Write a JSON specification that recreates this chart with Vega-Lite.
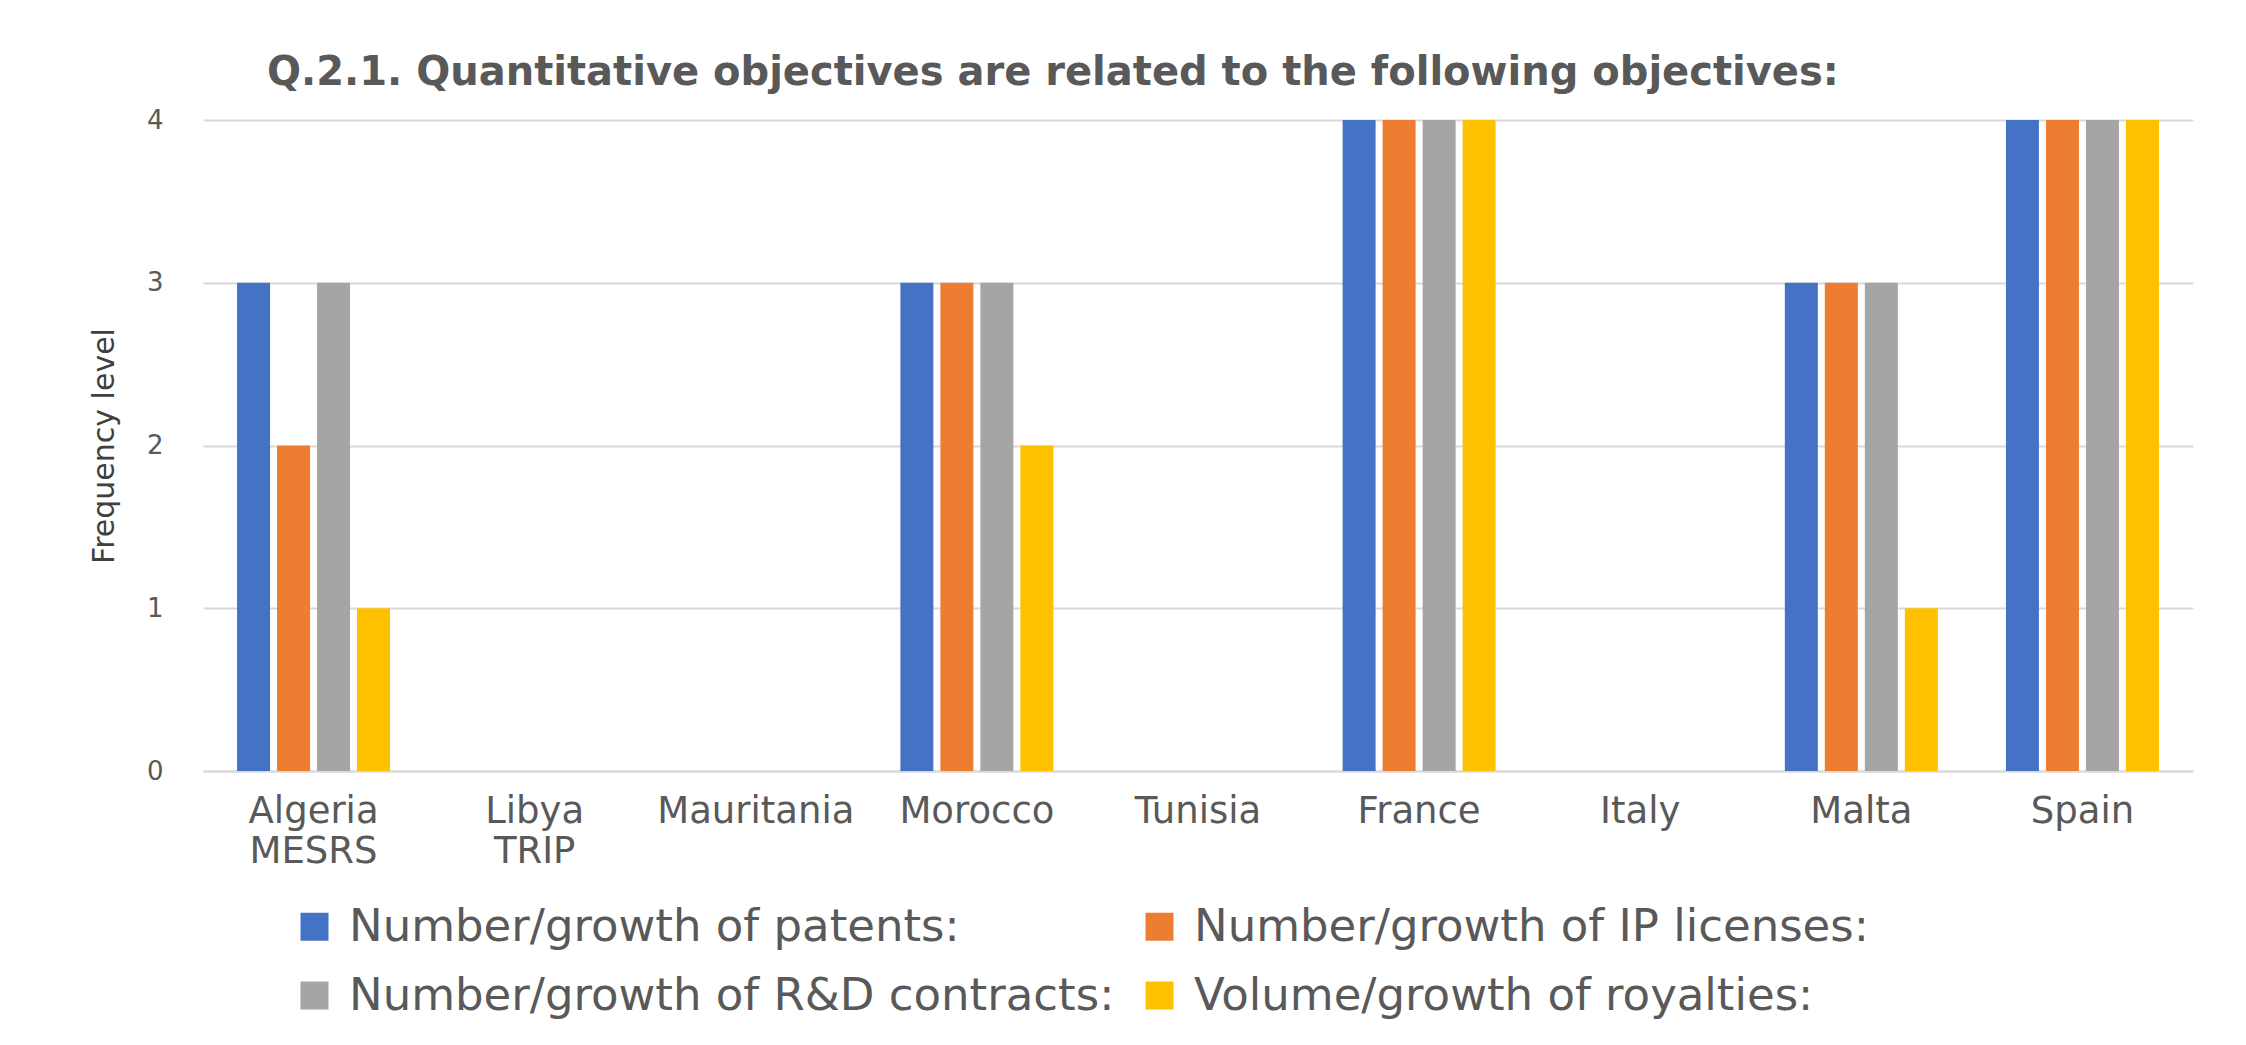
{
  "$schema": "https://vega.github.io/schema/vega-lite/v6.json",
  "autosize": {"type": "none"},
  "width": 1990,
  "height": 651,
  "padding": {"left": 203, "top": 120, "right": 53, "bottom": 274},
  "background": "white",
  "title": {
    "text": "Q.2.1. Quantitative objectives are related to the following objectives:",
    "anchor": "start",
    "frame": "group",
    "dx": 64,
    "font": "DejaVu Sans",
    "fontSize": 40,
    "fontWeight": "bold",
    "color": "#595959",
    "baseline": "bottom",
    "offset": -26
  },
  "data": {
    "values": [
      {"country": "Algeria\nMESRS", "objective": "Number/growth of patents:", "value": 3},
      {"country": "Algeria\nMESRS", "objective": "Number/growth of IP licenses:", "value": 2},
      {"country": "Algeria\nMESRS", "objective": "Number/growth of R&D contracts:", "value": 3},
      {"country": "Algeria\nMESRS", "objective": "Volume/growth of royalties:", "value": 1},
      {"country": "Libya\nTRIP", "objective": "Number/growth of patents:", "value": 0},
      {"country": "Libya\nTRIP", "objective": "Number/growth of IP licenses:", "value": 0},
      {"country": "Libya\nTRIP", "objective": "Number/growth of R&D contracts:", "value": 0},
      {"country": "Libya\nTRIP", "objective": "Volume/growth of royalties:", "value": 0},
      {"country": "Mauritania", "objective": "Number/growth of patents:", "value": 0},
      {"country": "Mauritania", "objective": "Number/growth of IP licenses:", "value": 0},
      {"country": "Mauritania", "objective": "Number/growth of R&D contracts:", "value": 0},
      {"country": "Mauritania", "objective": "Volume/growth of royalties:", "value": 0},
      {"country": "Morocco", "objective": "Number/growth of patents:", "value": 3},
      {"country": "Morocco", "objective": "Number/growth of IP licenses:", "value": 3},
      {"country": "Morocco", "objective": "Number/growth of R&D contracts:", "value": 3},
      {"country": "Morocco", "objective": "Volume/growth of royalties:", "value": 2},
      {"country": "Tunisia", "objective": "Number/growth of patents:", "value": 0},
      {"country": "Tunisia", "objective": "Number/growth of IP licenses:", "value": 0},
      {"country": "Tunisia", "objective": "Number/growth of R&D contracts:", "value": 0},
      {"country": "Tunisia", "objective": "Volume/growth of royalties:", "value": 0},
      {"country": "France", "objective": "Number/growth of patents:", "value": 4},
      {"country": "France", "objective": "Number/growth of IP licenses:", "value": 4},
      {"country": "France", "objective": "Number/growth of R&D contracts:", "value": 4},
      {"country": "France", "objective": "Volume/growth of royalties:", "value": 4},
      {"country": "Italy", "objective": "Number/growth of patents:", "value": 0},
      {"country": "Italy", "objective": "Number/growth of IP licenses:", "value": 0},
      {"country": "Italy", "objective": "Number/growth of R&D contracts:", "value": 0},
      {"country": "Italy", "objective": "Volume/growth of royalties:", "value": 0},
      {"country": "Malta", "objective": "Number/growth of patents:", "value": 3},
      {"country": "Malta", "objective": "Number/growth of IP licenses:", "value": 3},
      {"country": "Malta", "objective": "Number/growth of R&D contracts:", "value": 3},
      {"country": "Malta", "objective": "Volume/growth of royalties:", "value": 1},
      {"country": "Spain", "objective": "Number/growth of patents:", "value": 4},
      {"country": "Spain", "objective": "Number/growth of IP licenses:", "value": 4},
      {"country": "Spain", "objective": "Number/growth of R&D contracts:", "value": 4},
      {"country": "Spain", "objective": "Volume/growth of royalties:", "value": 4}
    ]
  },
  "mark": {"type": "bar", "strokeWidth": 0},
  "encoding": {
    "x": {
      "field": "country",
      "type": "nominal",
      "sort": null,
      "scale": {"paddingInner": 0.308, "paddingOuter": 0.154},
      "axis": {
        "title": null,
        "labelAngle": 0,
        "labelExpr": "split(datum.label, '\\n')",
        "labelFont": "DejaVu Sans",
        "labelFontSize": 37,
        "labelLineHeight": 40,
        "labelColor": "#595959",
        "labelPadding": 22,
        "labelBaseline": "top",
        "labelLimit": 400,
        "ticks": false,
        "domainColor": "#D9D9D9",
        "domainWidth": 2,
        "grid": false
      }
    },
    "xOffset": {
      "field": "objective",
      "type": "nominal",
      "sort": null,
      "scale": {"paddingInner": 0.175, "paddingOuter": 0}
    },
    "y": {
      "field": "value",
      "type": "quantitative",
      "scale": {"domain": [0, 4], "nice": false},
      "axis": {
        "title": "Frequency level",
        "titleFont": "DejaVu Sans",
        "titleFontSize": 30,
        "titleFontWeight": "normal",
        "titleColor": "#404040",
        "titlePadding": 27,
        "values": [0, 1, 2, 3, 4],
        "format": "d",
        "labelFont": "DejaVu Sans",
        "labelFontSize": 26,
        "labelColor": "#595959",
        "labelPadding": 40,
        "ticks": false,
        "domain": false,
        "gridColor": "#D9D9D9",
        "gridWidth": 2
      }
    },
    "color": {
      "field": "objective",
      "type": "nominal",
      "sort": null,
      "scale": {
        "domain": ["Number/growth of patents:", "Number/growth of IP licenses:", "Number/growth of R&D contracts:", "Volume/growth of royalties:"],
        "range": ["#4472C4", "#ED7D31", "#A5A5A5", "#FFC000"]
      },
      "legend": {
        "title": null,
        "orient": "none",
        "legendX": 89,
        "legendY": 784,
        "direction": "horizontal",
        "columns": 2,
        "columnPadding": 22,
        "rowPadding": 23,
        "padding": 0,
        "symbolType": "square",
        "symbolSize": 784,
        "symbolStrokeWidth": 0,
        "labelFont": "DejaVu Sans",
        "labelFontSize": 45,
        "labelColor": "#595959",
        "labelOffset": 12,
        "labelLimit": 1200
      }
    }
  },
  "config": {
    "view": {"stroke": null}
  }
}
